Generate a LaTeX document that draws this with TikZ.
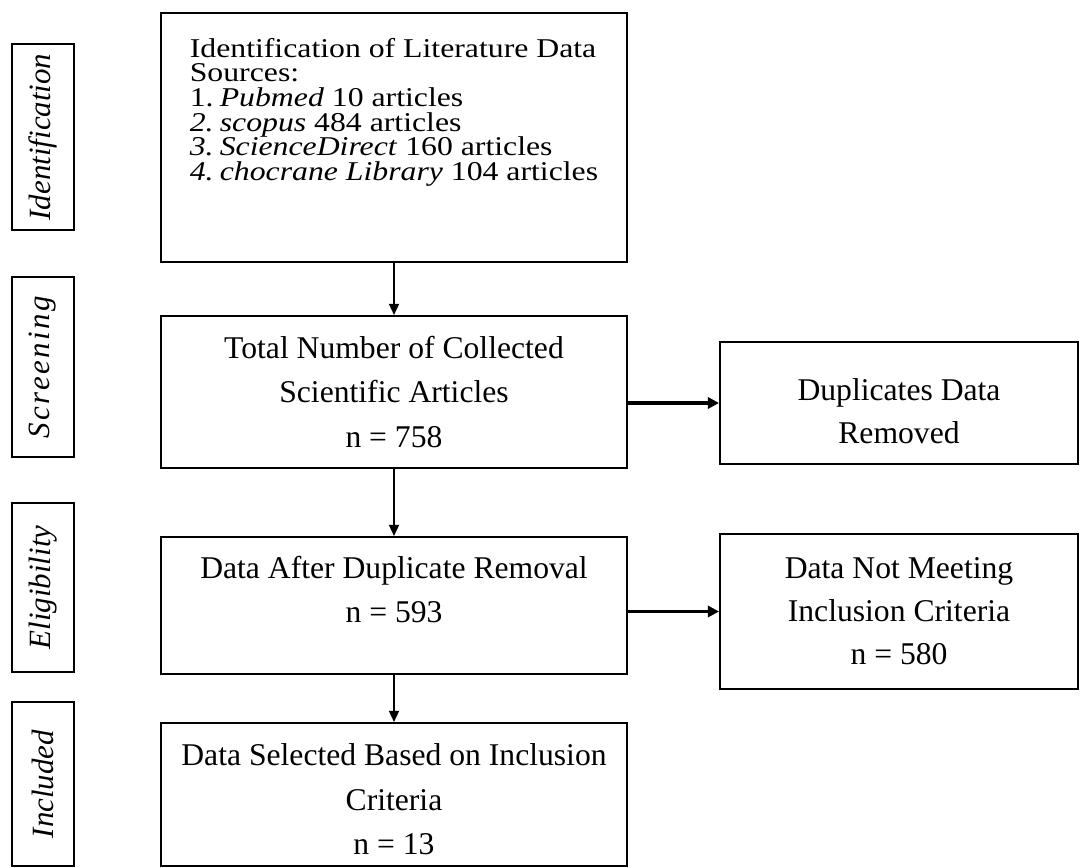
\documentclass[tikz,border=0pt]{standalone}
\usepackage{fontspec}
\setmainfont{Liberation Serif}
\newfontfamily\srcFont{Liberation Serif}[FakeStretch=1.17]
\newfontfamily\stageFont{Liberation Serif}
\usepackage{tikz}
\usetikzlibrary{arrows.meta}
\tikzset{
  mainBox/.style={draw,line width=1.3pt,minimum width=11.65cm,align=center,font=\fontsize{22.5pt}{31.5pt}\selectfont},
  sideBox/.style={draw,line width=1.3pt,minimum width=8.95cm,align=center,font=\fontsize{22.5pt}{30.5pt}\selectfont},
  stageBox/.style={draw,line width=1.3pt,rotate=90,minimum height=1.55cm,font=\stageFont\itshape\fontsize{22pt}{26pt}\selectfont},
  downArrow/.style={-{Triangle[length=8pt,width=7pt]},line width=1.6pt},
  sideArrow/.style={-{Triangle[length=8pt,width=8pt]},line width=2.5pt}
}

\begin{document}
\begin{tikzpicture}[x=0.025cm,y=-0.025cm]
\useasboundingbox (0,0) rectangle (1080,868);
% asama etiketleri
\node[stageBox,minimum width=4.65cm] (labIdent) at (43,137) {Identification};
\node[stageBox,minimum width=4.5cm] (labScreen) at (43,367) {\addfontfeature{LetterSpace=8}Screening};
\node[stageBox,minimum width=4.225cm] (labElig) at (43,587.5) {Eligibility};
\node[stageBox,minimum width=4.1cm] (labIncl) at (43,784) {Included};
% ana kutular
\node[mainBox,minimum height=6.225cm,inner xsep=0.45cm,inner ysep=0.54cm] (sources) at (394,137.5)
  {\parbox[c][5.145cm][t]{10.75cm}{\vspace*{0.09cm}\lineskiplimit=-20pt\srcFont\fontsize{19.3pt}{17.5pt}\selectfont
   \hbox{Identification of Literature Data}
   \hbox{Sources:}
   \hbox{\makebox[0.75cm][l]{1.}\textit{Pubmed} 10 articles}
   \hbox{\makebox[0.75cm][l]{\textit{2.}}\textit{scopus} 484 articles}
   \hbox{\makebox[0.75cm][l]{\textit{3.}}\textit{ScienceDirect} 160 articles}
   \hbox{\makebox[0.75cm][l]{\textit{4.}}\textit{chocrane Library} 104 articles}}};
\node[mainBox,minimum height=3.8cm] (total) at (394,392) {Total Number of Collected\\Scientific Articles\\n = 758};
\node[mainBox,minimum height=3.425cm,text depth=0.8cm] (afterDup) at (394,605.5) {Data After Duplicate Removal\\n = 593};
\node[mainBox,minimum height=3.575cm,text height=3.0cm] (selected) at (394,794.5) {Data Selected Based on Inclusion\\Criteria\\n = 13};
% yan kutular
\node[sideBox,minimum height=3.05cm,text height=2.05cm] (dupl) at (899,403) {Duplicates Data\\Removed};
\node[sideBox,minimum height=3.875cm] (notMeet) at (899,611.5) {Data Not Meeting\\Inclusion Criteria\\n = 580};
% oklar
\draw[downArrow] (sources.south) -- (total.north);
\draw[downArrow] (total.south) -- (afterDup.north);
\draw[downArrow] (afterDup.south) -- (selected.north);
\draw[sideArrow] (total.east |- dupl.west) -- (dupl.west);
\draw[sideArrow] (afterDup.east |- notMeet.west) -- (notMeet.west);
\end{tikzpicture}
\end{document}
